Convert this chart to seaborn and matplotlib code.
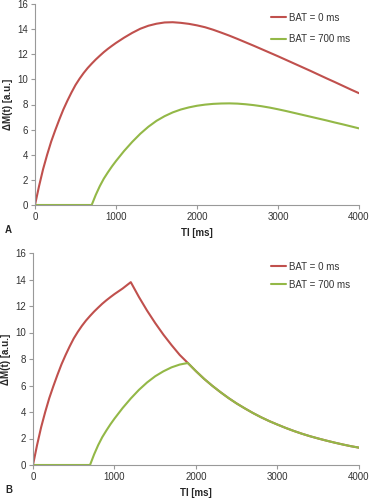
import matplotlib
matplotlib.use("Agg")
import matplotlib.pyplot as plt
import seaborn as sns
import pandas as pd

# inversion time grid [ms] (finer at the start where curves are steep)
ti = [0, 50, 100, 150, 200, 250, 300, 350, 400, 450, 500,
      550, 600, 650, 700, 750, 800, 850, 900, 950, 1000,
      1100, 1200, 1300, 1400, 1500, 1600, 1700, 1800, 1900, 2000,
      2100, 2200, 2300, 2400, 2500, 2600, 2700, 2800, 2900, 3000,
      3100, 3200, 3300, 3400, 3500, 3600, 3700, 3800, 3900, 4000]

# panel A: continuous labelling
a_bat0 = [0, 1.5, 2.85, 4.0, 5.05, 5.95, 6.8, 7.6, 8.3, 8.95, 9.55,
          10.05, 10.5, 10.9, 11.25, 11.58, 11.88, 12.17, 12.43, 12.67, 12.9,
          13.32, 13.7, 14.03, 14.27, 14.43, 14.53, 14.55, 14.5, 14.42, 14.3,
          14.15, 13.95, 13.72, 13.48, 13.22, 12.95, 12.68, 12.4, 12.12, 11.84,
          11.55, 11.26, 10.97, 10.68, 10.38, 10.08, 9.79, 9.49, 9.19, 8.9]
a_bat700 = [0, 0, 0, 0, 0, 0, 0, 0, 0, 0, 0,
            0, 0, 0, 0, 0.8, 1.5, 2.1, 2.6, 3.07, 3.5,
            4.3, 5.02, 5.67, 6.23, 6.7, 7.07, 7.37, 7.6, 7.77, 7.9,
            7.99, 8.05, 8.08, 8.09, 8.07, 8.02, 7.95, 7.86, 7.75, 7.62,
            7.48, 7.33, 7.18, 7.03, 6.88, 6.73, 6.57, 6.42, 6.26, 6.1]

# panel B: finite bolus
b_bat0 = [0, 1.5, 2.85, 4.0, 5.05, 5.95, 6.8, 7.6, 8.3, 8.95, 9.55,
          10.05, 10.5, 10.9, 11.25, 11.58, 11.88, 12.17, 12.43, 12.67, 12.9,
          13.32, 13.8, 12.68, 11.65, 10.71, 9.84, 9.05, 8.31, 7.7, 7.08,
          6.5, 5.98, 5.5, 5.05, 4.64, 4.27, 3.92, 3.6, 3.31, 3.05,
          2.8, 2.57, 2.36, 2.17, 2.0, 1.84, 1.69, 1.55, 1.42, 1.31]
b_bat700 = [0, 0, 0, 0, 0, 0, 0, 0, 0, 0, 0,
            0, 0, 0, 0, 0.8, 1.5, 2.1, 2.6, 3.07, 3.5,
            4.3, 5.02, 5.67, 6.23, 6.7, 7.07, 7.37, 7.58, 7.7, 7.08,
            6.5, 5.98, 5.5, 5.05, 4.64, 4.27, 3.92, 3.6, 3.31, 3.05,
            2.8, 2.57, 2.36, 2.17, 2.0, 1.84, 1.69, 1.55, 1.42, 1.31]

labels = ["BAT = 0 ms", "BAT = 700 ms"]
colors = ["#c0504d", "#93b847"]

sns.set_style("ticks")
plt.rcParams["font.family"] = ["Liberation Sans", "DejaVu Sans"]


def long_df(s0, s1):
    df = pd.DataFrame({"TI": ti + ti,
                       "dM": s0 + s1,
                       "BAT": [labels[0]] * len(ti) + [labels[1]] * len(ti)})
    return df


def draw_panel(ax, df, spacing):
    sns.lineplot(data=df, x="TI", y="dM", hue="BAT", hue_order=labels,
                 palette=colors, linewidth=1.5, ax=ax)
    ax.set_xlim(0, 4000)
    ax.set_ylim(0, 16)
    ax.set_xticks([0, 1000, 2000, 3000, 4000])
    ax.set_yticks(range(0, 17, 2))
    ax.tick_params(direction="out", length=3, width=0.8, color="#999999",
                   labelsize=7, labelcolor="#333333", pad=2)
    for s in ["left", "bottom"]:
        ax.spines[s].set_color("#999999")
        ax.spines[s].set_linewidth(0.8)
    sns.despine(ax=ax)
    ax.set_xlabel("TI [ms]", fontsize=7, fontweight="bold", labelpad=4)
    ax.set_ylabel("ΔM(t) [a.u.]", fontsize=7, fontweight="bold", labelpad=3)
    leg = ax.legend(loc="upper right", frameon=False, fontsize=7,
                    handlelength=1.6, handletextpad=0.3,
                    labelspacing=spacing, bbox_to_anchor=(1.0, 1.0))
    for t in leg.get_texts():
        t.set_color("#333333")


fig = plt.figure(figsize=(3.71, 5.0), dpi=100)
ax_a = fig.add_axes([0.0943, 0.59, 0.8733, 0.402])
ax_b = fig.add_axes([0.0889, 0.07, 0.8787, 0.424])

draw_panel(ax_a, long_df(a_bat0, a_bat700), 1.2)
draw_panel(ax_b, long_df(b_bat0, b_bat700), 0.8)

fig.text(5 / 371, 1 - 230 / 500, "A", fontsize=7, fontweight="bold",
         va="center", ha="left")
fig.text(5 / 371, 1 - 490 / 500, "B", fontsize=7, fontweight="bold",
         va="center", ha="left")

fig.savefig("out.png", dpi=100)
